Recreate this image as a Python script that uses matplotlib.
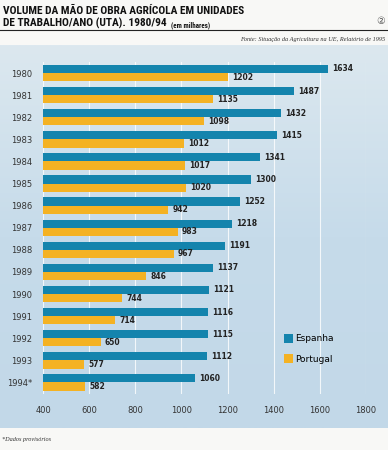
import numpy as np
import matplotlib
matplotlib.use("Agg")
import matplotlib.pyplot as plt
from matplotlib import font_manager

anos = ["1980", "1981", "1982", "1983", "1984", "1985", "1986", "1987",
        "1988", "1989", "1990", "1991", "1992", "1993", "1994*"]
espanha = [1634, 1487, 1432, 1415, 1341, 1300, 1252, 1218,
           1191, 1137, 1121, 1116, 1115, 1112, 1060]
portugal = [1202, 1135, 1098, 1012, 1017, 1020, 942, 983,
            967, 846, 744, 714, 650, 577, 582]
xticks = [400, 600, 800, 1000, 1200, 1400, 1600, 1800]

cor_esp = "#1484ad"
cor_por = "#f4b223"

# fonte estreita para o titulo, se houver
nomes = set(f.name for f in font_manager.fontManager.ttflist)
titulo_fam = "DejaVu Sans"
titulo_fs = 6.9
for cand in ["Liberation Sans Narrow", "Roboto Condensed", "Open Sans Condensed", "DejaVu Sans Condensed"]:
    if cand in nomes:
        titulo_fam = cand
        titulo_fs = 8.2
        break

W, H = 388, 450
fig = plt.figure(figsize=(W / 100, H / 100), dpi=100, facecolor="#f8f8f6")

# painel azul claro com gradiente
bg = fig.add_axes([0, 1 - 428 / H, 1, 383 / H], zorder=0)
grad = np.linspace(0, 1, 256).reshape(-1, 1)
bg.imshow(grad, aspect="auto", cmap=matplotlib.colors.LinearSegmentedColormap.from_list(
    "painel", ["#dce8ef", "#c6dbea", "#c2d8e8"]), extent=[0, 1, 0, 1])
bg.axis("off")

ax = fig.add_axes([43 / W, 1 - 393.5 / H, 323 / W, 331.5 / H], zorder=1)
ax.set_facecolor("none")

y = np.arange(len(anos))
h = 0.37
ax.barh(y - h / 2, espanha, height=h, left=0, color=cor_esp, label="Espanha", zorder=3)
ax.barh(y + h / 2, portugal, height=h, left=0, color=cor_por, label="Portugal", zorder=3)

for i in range(len(anos)):
    ax.text(espanha[i] + 18, y[i] - h / 2, str(espanha[i]), va="center", ha="left",
            fontsize=5.5, fontweight="bold", color="#222222", zorder=4)
    ax.text(portugal[i] + 18, y[i] + h / 2, str(portugal[i]), va="center", ha="left",
            fontsize=5.5, fontweight="bold", color="#222222", zorder=4)

ax.set_xlim(400, 1800)
ax.set_ylim(len(anos) - 0.5, -0.5)
ax.set_xticks(xticks)
ax.set_yticks(y)
ax.set_yticklabels(anos)
ax.tick_params(axis="both", length=0, labelsize=6, labelcolor="#333333")
ax.tick_params(axis="x", pad=9)
ax.tick_params(axis="y", pad=8)
for s in ax.spines.values():
    s.set_visible(False)
ax.grid(axis="x", color="white", linewidth=0.8, alpha=0.8, zorder=1)

ax.legend(loc="lower left", bbox_to_anchor=(0.72, 0.065), frameon=False, fontsize=6.5,
          handlelength=1.0, handleheight=1.2, labelspacing=1.2, handletextpad=0.3)

# titulo
fig.text(3 / W, 1 - 14 / H, "VOLUME DA MÃO DE OBRA AGRÍCOLA EM UNIDADES",
         fontsize=titulo_fs, fontweight="bold", family=titulo_fam, color="#111111")
t2 = fig.text(3 / W, 1 - 27 / H, "DE TRABALHO/ANO (UTA). 1980/94",
              fontsize=titulo_fs, fontweight="bold", family=titulo_fam, color="#111111")
fig.canvas.draw()
bb = t2.get_window_extent()
fig.text((bb.x1 + 4) / W, 1 - 27 / H, "(em milhares)",
         fontsize=5, fontweight="bold", family=titulo_fam, color="#111111")
fig.text(381 / W, 1 - 24 / H, "②", fontsize=7, color="#555555", ha="center")
fig.add_artist(plt.Line2D([0, 1], [1 - 30 / H, 1 - 30 / H], color="#222222", linewidth=0.8))
fig.text(385 / W, 1 - 41 / H, "Fonte: Situação da Agricultura na UE, Relatório de 1995",
         fontsize=4.5, style="italic", family="Liberation Serif", ha="right", color="#333333")
fig.text(2 / W, 1 - 441 / H, "*Dados provisórios",
         fontsize=4.5, style="italic", family="Liberation Serif", color="#333333")

fig.savefig("out.png", dpi=100, facecolor=fig.get_facecolor())
